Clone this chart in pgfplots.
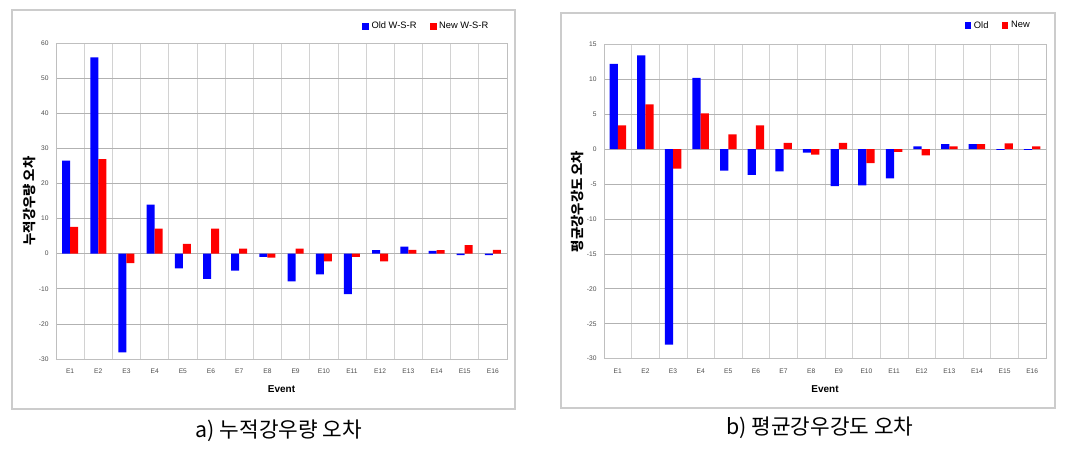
\documentclass[border=0pt]{standalone}
\usepackage{pgfplots}
\usepackage{pgfplotstable}
\pgfplotsset{compat=1.18}
\usepackage{fontspec}
\setmainfont{Liberation Sans}
\newfontfamily\kr{Noto Sans CJK KR}

\pgfplotstableread{
x old new
0 26.5 7.6
1 55.9 26.9
2 -28.1 -2.7
3 14.0 7.1
4 -4.2 2.8
5 -7.2 7.1
6 -4.8 1.4
7 -0.9 -1.1
8 -7.9 1.4
9 -5.9 -2.2
10 -11.5 -0.9
11 1.0 -2.2
12 2.0 1.1
13 0.8 1.0
14 -0.4 2.4
15 -0.4 1.1
}\cumtable

\pgfplotstableread{
x old new
0 12.2 3.4
1 13.4 6.4
2 -28.0 -2.8
3 10.2 5.1
4 -3.1 2.1
5 -3.7 3.4
6 -3.2 0.9
7 -0.5 -0.8
8 -5.3 0.9
9 -5.2 -2.0
10 -4.2 -0.4
11 0.4 -0.9
12 0.7 0.4
13 0.7 0.7
14 -0.1 0.8
15 -0.1 0.4
}\inttable

\pgfplotsset{
  evstyle/.style={
    scale only axis,
    ybar=0pt,
    xmin=-0.5, xmax=15.5,
    xtick={0,...,15},
    xticklabels={E1,E2,E3,E4,E5,E6,E7,E8,E9,E10,E11,E12,E13,E14,E15,E16},
    minor xtick={-0.5,0.5,...,15.5},
    xminorgrids=true,
    ymajorgrids=true,
    major grid style={gray!60, line width=0.5pt},
    minor grid style={gray!35, line width=0.5pt},
    axis line style={gray!50},
    major tick length=0pt, minor tick length=0pt,
    tick label style={font=\fontsize{5}{6}\selectfont, text=black!70},
    /pgf/number format/assume math mode=true,
    xticklabel style={yshift=-4pt},
    yticklabel style={xshift=-2pt},
    xlabel={Event},
    xlabel style={font=\fontsize{7.5}{9}\selectfont\bfseries, anchor=center},
    ylabel style={font=\kr\bfseries\fontsize{10}{12}\selectfont, anchor=center, rotate=0},
    legend style={draw=none, fill=none, inner sep=0pt, font=\fontsize{7}{8}\selectfont,
      legend columns=2, /tikz/every even column/.append style={column sep=8pt},
      /tikz/every odd column/.append style={column sep=0pt}},
    legend image code/.code={\fill[##1] (0.5pt,-2.5pt) rectangle (5.5pt,2.7pt);},
  }
}

\begin{document}
\begin{tikzpicture}
\path[use as bounding box] (0,0) rectangle (819pt,339pt);
\draw[gray!40, line width=1.5pt] (9pt,331.5pt) rectangle (386.25pt,32pt);
\draw[gray!40, line width=1.5pt] (420.75pt,329.25pt) rectangle (791.25pt,33pt);

\begin{axis}[evstyle,
  at={(42pt,69.75pt)}, anchor=south west,
  width=338.25pt, height=237pt,
  ymin=-30, ymax=60, ytick={-30,-20,...,60},
  bar width=6pt,
  ylabel={누적강우량 오차},
  ylabel style={at={(axis description cs:-0.0577,0.5)}},
  xlabel style={at={(axis description cs:0.5,-0.095)}},
  legend style={at={(axis description cs:0.965,1.03)}, anchor=south east},
]
\addplot[fill={rgb,255:red,0;green,0;blue,255}, draw=none] table[x=x,y=old] {\cumtable};
\addplot[fill={rgb,255:red,255;green,0;blue,0}, draw=none] table[x=x,y=new] {\cumtable};
\legend{Old W-S-R, New W-S-R}
\end{axis}

\begin{axis}[evstyle,
  at={(453pt,70pt)}, anchor=south west,
  width=331.5pt, height=235.8pt,
  ymin=-30, ymax=15, ytick={-30,-25,...,15},
  bar width=6.2pt,
  ylabel={평균강우강도 오차},
  ylabel style={at={(axis description cs:-0.0588,0.5)}},
  xlabel style={at={(axis description cs:0.5,-0.0954)}},
  legend style={at={(axis description cs:0.97,1.036)}, anchor=south east},
]
\addplot[fill={rgb,255:red,0;green,0;blue,255}, draw=none] table[x=x,y=old] {\inttable};
\addplot[fill={rgb,255:red,255;green,0;blue,0}, draw=none] table[x=x,y=new] {\inttable};
\legend{Old, New}
\end{axis}

\node[font=\kr\fontsize{16}{18}\selectfont, anchor=center] at (209.25pt,15.75pt) {a)~누적강우량~오차};
\node[font=\kr\fontsize{16}{18}\selectfont, anchor=center] at (615pt,18.4pt) {b)~평균강우강도~오차};
\end{tikzpicture}
\end{document}
